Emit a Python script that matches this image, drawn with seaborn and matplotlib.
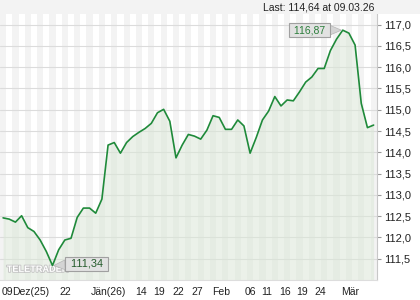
import numpy as np
import pandas as pd
import matplotlib
matplotlib.use("Agg")
import matplotlib.pyplot as plt
import seaborn as sns
from matplotlib import patheffects as pe
from matplotlib.patches import Rectangle

# ---- data ----
prices = [112.46, 112.43, 112.36, 112.51, 112.23, 112.14, 111.94, 111.67, 111.34, 111.71,
          111.94, 111.98, 112.47, 112.69, 112.69, 112.57, 112.90, 114.17, 114.23, 113.98,
          114.23, 114.37, 114.47, 114.56, 114.68, 114.93, 115.01, 114.73, 113.87, 114.17,
          114.42, 114.38, 114.31, 114.52, 114.86, 114.82, 114.54, 114.54, 114.76, 114.62,
          113.98, 114.35, 114.76, 114.97, 115.31, 115.09, 115.23, 115.21, 115.42, 115.65,
          115.77, 115.97, 115.97, 116.39, 116.66, 116.87, 116.80, 116.52, 115.15, 114.58, 114.64]
xtick_labels = ["09", "Dez(25)", "22", "Jän(26)", "14", "19", "22", "27",
                "Feb", "06", "11", "16", "19", "24", "Mär"]
xtick_pos = [0.7, 4.5, 10.0, 17.0, 22.4, 25.3, 28.4, 31.5,
             35.3, 40.0, 42.7, 45.7, 48.4, 51.3, 56.2]
ytick_vals = [111.5, 112.0, 112.5, 113.0, 113.5, 114.0, 114.5, 115.0, 115.5, 116.0, 116.5, 117.0]
max_label = "116,87"
min_label = "111,34"
last_text = "Last: 114,64 at 09.03.26"

df = pd.DataFrame({"day": np.arange(len(prices)), "price": prices})
n = len(prices)
ymin, ymax = 111.0, 117.25

sns.set_style("white")
plt.rcParams['font.family'] = ['Liberation Sans', 'DejaVu Sans']

fig = plt.figure(figsize=(4.2, 3.0), dpi=100)
fig.patch.set_facecolor("white")
fig.patches.append(Rectangle((0, 1 - 14 / 300), 1, 14 / 300, transform=fig.transFigure,
                             facecolor="#f3f3f3", edgecolor="none", zorder=0))
ax = fig.add_axes([0, 20 / 300, 376.7 / 420, 266 / 300])
ax.set_facecolor("white")

# alternating day stripes
for i in range(n):
    if i % 2 == 0:
        ax.axvspan(i - 0.5, i + 0.5, color="#f3f3f3", lw=0, zorder=0)

# horizontal grid lines
for v in ytick_vals:
    ax.axhline(v, color="#dcdcdc", lw=0.8, zorder=0.5)

# area + line
ax.fill_between(df["day"], df["price"], ymin, color="#dbe7d7", alpha=0.55, lw=0, zorder=1)
sns.lineplot(data=df, x="day", y="price", ax=ax, color="#1f8a3a", lw=1.2, zorder=3)

ax.set_xlim(-0.5, n - 0.5)
ax.set_ylim(ymin, ymax)
ax.set_xlabel("")
ax.set_ylabel("")

# axes styling
for s in ["top", "left"]:
    ax.spines[s].set_visible(False)
ax.spines["right"].set_color("#c8c8c8")
ax.spines["right"].set_linewidth(0.8)
ax.spines["bottom"].set_color("#dddddd")
ax.spines["bottom"].set_linewidth(0.8)

ax.yaxis.tick_right()
ax.set_yticks(ytick_vals)
ax.set_yticklabels([f"{v:.1f}".replace(".", ",") for v in ytick_vals])
ax.tick_params(axis="y", which="major", length=3, width=0.8, color="#999999",
               pad=2, labelsize=8, labelcolor="#222222")

ax.set_xticks(xtick_pos)
ax.set_xticklabels(xtick_labels)
ax.set_xticks(np.arange(n), minor=True)
ax.tick_params(axis="x", which="major", length=0, pad=5, labelsize=7.5, labelcolor="#222222")
ax.tick_params(axis="x", which="minor", length=3, width=0.7, color="#cccccc")

# annotations for max / min
imax = int(np.argmax(prices))
imin = int(np.argmin(prices))
bbox = dict(boxstyle="square,pad=0.2", fc="#e2e2e2", ec="#a0a0a0", lw=0.8)
arrow = dict(arrowstyle="wedge,tail_width=0.9,shrink_factor=0.5", fc="#d4d4d4",
             ec="#b5b5b5", lw=0.5, shrinkA=0, shrinkB=1)
ax.annotate(" " + max_label + " ", xy=(imax, prices[imax]), xytext=(-24, 0),
            textcoords="offset points", ha="center", va="center", fontsize=7.5,
            color="#2a7d3a", bbox=bbox, arrowprops=arrow, zorder=5)
ax.annotate(" " + min_label + " ", xy=(imin, prices[imin]), xytext=(24.5, 1.2),
            textcoords="offset points", ha="center", va="center", fontsize=7.8,
            color="#235a2a", bbox=bbox, arrowprops=arrow, zorder=5)

# watermark
ax.text(0.018, 0.04, "TELETRADER", transform=ax.transAxes, fontsize=6.6,
        fontweight="bold", color="white", va="center", ha="left", zorder=2,
        path_effects=[pe.withStroke(linewidth=1.3, foreground="#c4c4c4")])

fig.text(374 / 420, 1 - 7.5 / 300, last_text, ha="right", va="center",
         fontsize=7.5, color="#222222")

fig.savefig("out.png", dpi=100)
